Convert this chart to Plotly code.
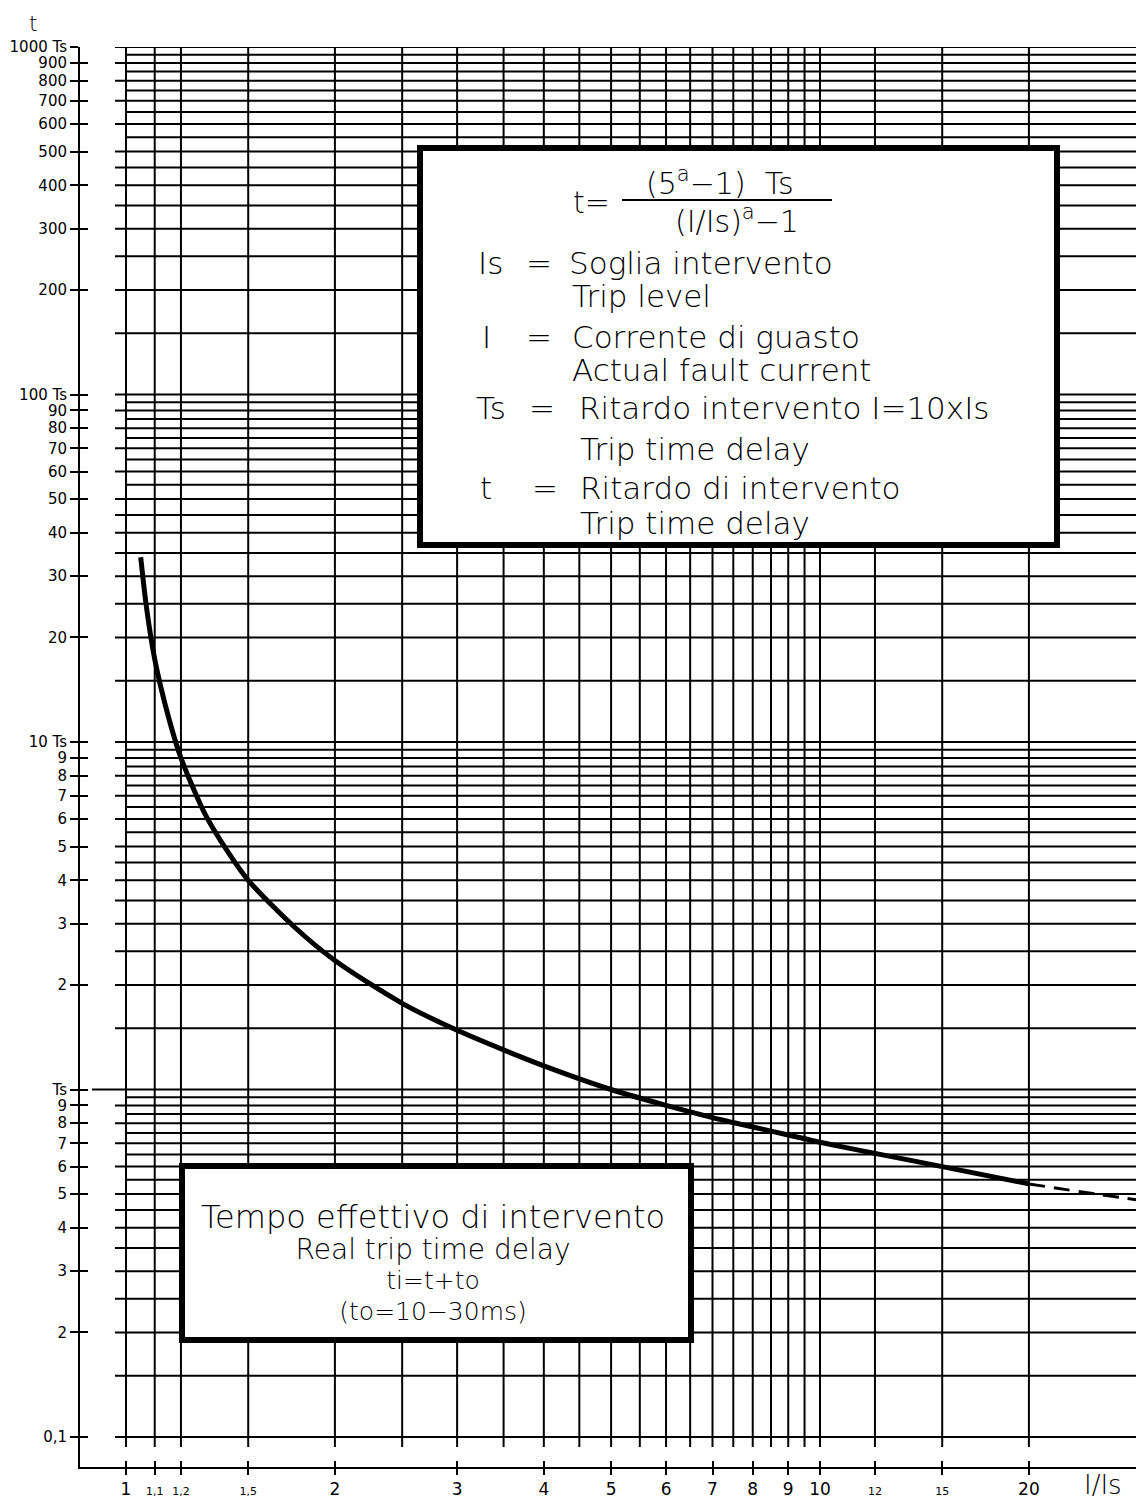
import plotly.graph_objects as go

# ---- data ----
curve_x = [1.05, 1.07, 1.1, 1.15, 1.2, 1.3, 1.4, 1.5, 1.75, 2, 2.5, 3, 3.5, 4, 5, 6, 7, 8, 9, 10, 12, 15, 20]
curve_t = [34, 24.5, 17.3, 11.9, 9.0, 6.2, 4.85, 4.0, 2.93, 2.35, 1.77, 1.48, 1.30, 1.17, 1.0, 0.90, 0.83, 0.78, 0.74, 0.705, 0.655, 0.60, 0.535]
dash_x = [20, 25, 30]
dash_t = [0.535, 0.50, 0.475]

grid_x = [1, 1.1, 1.2, 1.5, 2, 2.5, 3, 3.5, 4, 4.5, 5, 5.5, 6, 6.5, 7, 7.5, 8, 8.5, 9, 9.5, 10, 12, 15, 20]
grid_y_long = [0.1, 0.15, 0.2, 0.25, 0.3, 0.35, 0.4, 0.45, 0.5, 0.6, 0.7, 0.8, 0.9,
               1.5, 2, 2.5, 3, 3.5, 4, 4.5, 5, 6, 7, 8, 9, 10,
               15, 20, 25, 30, 35, 40, 45, 50, 60, 70, 80, 90, 100,
               150, 200, 250, 300, 350, 400, 450, 500, 600, 700, 800, 900, 1000]
grid_y_short = [0.55, 0.65, 0.75, 0.85, 0.95, 5.5, 6.5, 7.5, 8.5, 9.5,
                55, 65, 75, 85, 95, 550, 650, 750, 850, 950]
grid_y_ext = [1]

x_tickvals = [1, 1.1, 1.2, 1.5, 2, 3, 4, 5, 6, 7, 8, 9, 10, 12, 15, 20]
x_ticktext = ["1", "1,1", "1,2", "1,5", "2", "3", "4", "5", "6", "7", "8", "9", "10", "12", "15", "20"]
x_small = ["1,1", "1,2", "1,5", "12", "15"]

y_tickvals = [0.1, 0.2, 0.3, 0.4, 0.5, 0.6, 0.7, 0.8, 0.9, 1,
              2, 3, 4, 5, 6, 7, 8, 9, 10,
              20, 30, 40, 50, 60, 70, 80, 90, 100,
              200, 300, 400, 500, 600, 700, 800, 900, 1000]
y_ticktext = ["0,1", "2", "3", "4", "5", "6", "7", "8", "9", "Ts",
              "2", "3", "4", "5", "6", "7", "8", "9", "10 Ts",
              "20", "30", "40", "50", "60", "70", "80", "90", "100 Ts",
              "200", "300", "400", "500", "600", "700", "800", "900", "1000 Ts"]

# ---- layout (window pixel helpers; page body has an 8px margin) ----
OFF = 8
W, H = 1144 - OFF, 1503 - OFF
ML, MR, MT, MB = 80 - OFF, 0, 47 - OFF, 36
XR = [(80 - 126) / 694, (1144 - 126) / 694]
YR = [3 - (1467 - 47) / 347.5, 3]
PW, PH = W - ML - MR, H - MT - MB


def px(xw):
    return (xw - OFF - ML) / PW


def py(yw):
    return (H - MB - (yw - OFF)) / PH


FONT = "DejaVu Sans"

fig = go.Figure()
fig.add_trace(go.Scatter(x=curve_x, y=curve_t, mode="lines",
                         line=dict(color="black", width=5, shape="spline", smoothing=0.8),
                         hoverinfo="skip", showlegend=False))
fig.add_trace(go.Scatter(x=dash_x, y=dash_t, mode="lines",
                         line=dict(color="black", width=3, dash="16px,9px", shape="spline"),
                         hoverinfo="skip", showlegend=False))
fig.add_trace(go.Scatter(x=[1.5], y=[1], xaxis="x2", yaxis="y2", mode="markers",
                         marker=dict(opacity=0), hoverinfo="skip", showlegend=False))

shapes = []
for v in grid_x:
    shapes.append(dict(type="line", xref="x", yref="y domain", x0=v, x1=v,
                       y0=py(1447), y1=1, layer="below",
                       line=dict(color="black", width=2)))
for v in grid_y_long:
    shapes.append(dict(type="line", xref="x domain", yref="y", x0=px(115), x1=1,
                       y0=v, y1=v, layer="below", line=dict(color="black", width=2)))
for v in grid_y_short:
    shapes.append(dict(type="line", xref="x domain", yref="y", x0=px(126), x1=1,
                       y0=v, y1=v, layer="below", line=dict(color="black", width=2)))
for v in grid_y_ext:
    shapes.append(dict(type="line", xref="x domain", yref="y", x0=px(92), x1=1,
                       y0=v, y1=v, layer="below", line=dict(color="black", width=2)))

# boxes
shapes.append(dict(type="rect", xref="paper", yref="paper",
                   x0=px(420), x1=px(1057), y0=py(545), y1=py(148),
                   fillcolor="white", line=dict(color="black", width=6), layer="above"))
shapes.append(dict(type="rect", xref="paper", yref="paper",
                   x0=px(182), x1=px(691), y0=py(1340), y1=py(1166),
                   fillcolor="white", line=dict(color="black", width=6), layer="above"))
# fraction bar
shapes.append(dict(type="line", xref="paper", yref="paper",
                   x0=px(622), x1=px(832), y0=py(200), y1=py(200),
                   line=dict(color="black", width=2), layer="above"))

ann = []


def txt(s, x, y, size=30, anchor="left", weight=200):
    ann.append(dict(text=s, x=px(x), y=py(y), xref="paper", yref="paper",
                    xanchor=anchor, yanchor="middle", showarrow=False,
                    font=dict(family=FONT, size=size, color="black", weight=weight)))


NB = "\u00a0"
txt("(5<sup>a</sup>−1)" + NB * 2 + "Ts", 720, 182, 30, "center")
txt("(I/Is)<sup>a</sup>−1", 737, 220, 30, "center")
txt("t=", 612, 203, 30, "right")

rows = [
    ("Is", 476, 263), ("=", 524, 263), ("Soglia intervento", 567, 263),
    ("Trip level", 570, 296),
    ("I", 480, 337), ("=", 524, 337), ("Corrente di guasto", 570, 337),
    ("Actual fault current", 570, 370),
    ("Ts", 474, 408), ("=", 527, 408), ("Ritardo intervento I=10xIs", 577, 408),
    ("Trip time delay", 578, 449),
    ("t", 478, 488), ("=", 530, 488), ("Ritardo di intervento", 578, 488),
    ("Trip time delay", 578, 523),
]
for s, x, y in rows:
    txt(s, x, y, 31)

bottom_lines = [("Tempo effettivo di intervento", 32), ("Real trip time delay", 28),
                ("ti=t+to", 25), ("(to=10−30ms)", 25)]
txt("<br>".join(f'<span style="font-size:{s}px">{t}</span>' for t, s in bottom_lines),
    433, 1262, 23.5, "center")

txt("t", 33, 23, 22, "center")
txt("I/Is", 1103, 1485, 26, "center")

x_text = [f'<span style="font-size:11px">{t}</span>' if t in x_small else t for t in x_ticktext]

fig.update_layout(
    width=W, height=H,
    margin=dict(l=ML, r=MR, t=MT, b=MB, pad=0),
    paper_bgcolor="white", plot_bgcolor="white",
    showlegend=False,
    shapes=shapes, annotations=ann,
    font=dict(family=FONT, color="black"),
    xaxis=dict(type="log", range=XR, showgrid=False, zeroline=False,
               showline=True, linecolor="black", linewidth=2,
               ticks="outside", ticklen=6, tickwidth=2, tickcolor="black",
               tickvals=x_tickvals, ticktext=x_text,
               tickfont=dict(family=FONT, size=17, color="black"),
               automargin=False),
    xaxis2=dict(type="log", range=XR, overlaying="x", anchor="y", side="bottom",
                showgrid=False, zeroline=False, showline=False,
                ticks="inside", ticklen=6, tickwidth=2, tickcolor="black",
                tickvals=x_tickvals, showticklabels=False),
    yaxis=dict(type="log", range=YR, showgrid=False, zeroline=False,
               showline=True, linecolor="black", linewidth=2,
               ticks="outside", ticklen=8, tickwidth=2, tickcolor="black",
               tickvals=y_tickvals, ticktext=y_ticktext,
               tickfont=dict(family=FONT, size=15, color="black"),
               automargin=False),
    yaxis2=dict(type="log", range=YR, overlaying="y", anchor="x", side="left",
                showgrid=False, zeroline=False, showline=False,
                ticks="inside", ticklen=8, tickwidth=2, tickcolor="black",
                tickvals=y_tickvals, showticklabels=False),
)

fig.write_html("out.html")
